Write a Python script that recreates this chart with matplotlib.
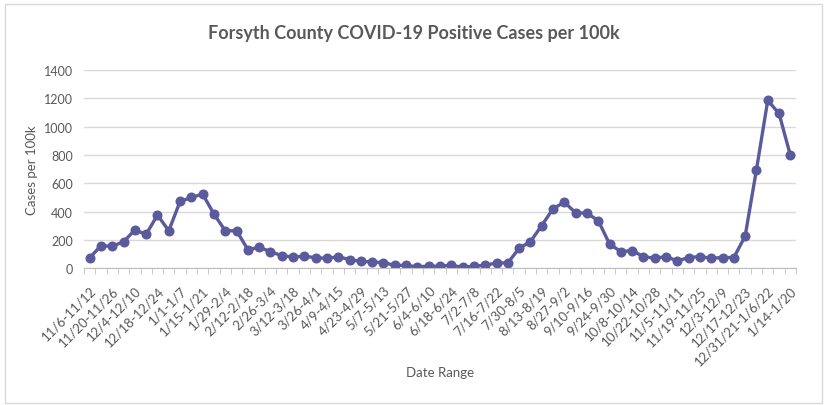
import matplotlib.pyplot as plt
from matplotlib.patches import Rectangle

# weekly cases per 100k, 11/6/2020 .. 1/14/2022 (63 weeks)
cases = [73, 160, 155, 188, 270, 240, 376, 265, 472, 500,
         524, 383, 265, 265, 132, 148, 118, 89, 80, 85,
         75, 70, 82, 61, 49, 45, 40, 21, 21, 10,
         16, 14, 23, 6, 16, 21, 38, 38, 141, 188,
         302, 420, 467, 392, 389, 337, 172, 118, 125, 83,
         71, 83, 52, 76, 83, 71, 76, 76, 227, 696,
         1185, 1093, 798]

# only every other week is labelled on the axis
shown_labels = ["11/6-11/12", "11/20-11/26", "12/4-12/10", "12/18-12/24",
                "1/1-1/7", "1/15-1/21", "1/29-2/4", "2/12-2/18", "2/26-3/4",
                "3/12-3/18", "3/26-4/1", "4/9-4/15", "4/23-4/29", "5/7-5/13",
                "5/21-5/27", "6/4-6/10", "6/18-6/24", "7/2-7/8", "7/16-7/22",
                "7/30-8/5", "8/13-8/19", "8/27-9/2", "9/10-9/16", "9/24-9/30",
                "10/8-10/14", "10/22-10/28", "11/5-11/11", "11/19-11/25",
                "12/3-12/9", "12/17-12/23", "12/31/21-1/6/22", "1/14-1/20"]

yticks = [0, 200, 400, 600, 800, 1000, 1200, 1400]

plt.rcParams['font.family'] = ['Lato', 'DejaVu Sans']
text_col = '#595959'
line_col = '#5A5A9C'

fig = plt.figure(figsize=(8.27, 4.06), dpi=100)
ax = fig.add_axes([84 / 827, 1 - 269.3 / 406, (796 - 84) / 827, (269.3 - 71) / 406])

x = list(range(len(cases)))
ax.plot(x, cases, color=line_col, lw=2.4, marker='o', ms=6.2,
        markerfacecolor=line_col, markeredgecolor=line_col, solid_joinstyle='round')

ax.set_xlim(-0.5, len(cases) - 0.5)
ax.set_ylim(0, 1400)
ax.set_yticks(yticks)
ax.set_yticklabels([str(v) for v in yticks], fontsize=9, color=text_col)
ax.grid(axis='y', color='#D9D9D9', lw=1)
ax.set_axisbelow(True)

ax.set_xticks(x[::2])
ax.set_xticklabels(shown_labels, rotation=45, ha='right', rotation_mode='anchor',
                   fontsize=9.5, color=text_col)
ax.set_xticks([i - 0.5 for i in range(len(cases) + 1)], minor=True)
ax.tick_params(axis='x', which='major', length=0, pad=11)
ax.tick_params(axis='x', which='minor', length=4, color='#BFBFBF')
ax.tick_params(axis='y', length=0, pad=8)

for s in ['top', 'right', 'left']:
    ax.spines[s].set_visible(False)
ax.spines['bottom'].set_color('#BFBFBF')

ax.set_ylabel('Cases per 100k', fontsize=9.5, color=text_col, labelpad=4)
fig.text(440 / 827, 1 - 373 / 406, 'Date Range', fontsize=9.5, color=text_col,
         ha='center', va='center')
fig.text(414 / 827, 1 - 33 / 406, 'Forsyth County COVID-19 Positive Cases per 100k',
         fontsize=13, fontweight='bold', color=text_col, ha='center', va='center')

fig.patches.append(Rectangle((5 / 827, 2 / 406), 817 / 827, 399 / 406,
                             transform=fig.transFigure, fill=False,
                             edgecolor='#D9D9D9', lw=1))

fig.savefig('out.png', dpi=100)
